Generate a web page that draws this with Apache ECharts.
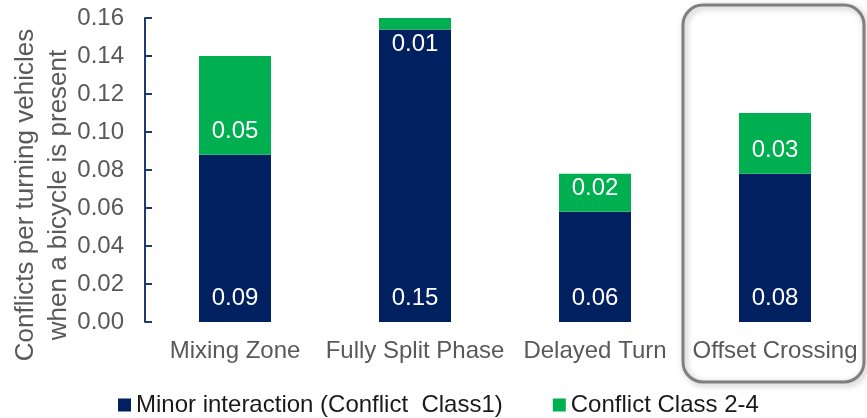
<!DOCTYPE html>
<html>
<head>
<meta charset="utf-8">
<script src="https://cdn.jsdelivr.net/npm/echarts@6/dist/echarts.min.js"></script>
<style>
  html, body { margin: 0; padding: 0; background: #ffffff; }
  #chart { width: 867px; height: 418px; }
</style>
</head>
<body>
<div id="chart"></div>
<script>
  // data
  const categories = ['Mixing Zone', 'Fully Split Phase', 'Delayed Turn', 'Offset Crossing'];
  const minorValues = [0.088, 0.154, 0.058, 0.078];
  const class24Values = [0.052, 0.007, 0.020, 0.032];
  const yTicks = [0, 0.02, 0.04, 0.06, 0.08, 0.10, 0.12, 0.14, 0.16];
  const seriesNames = ['Minor interaction (Conflict  Class1)', 'Conflict Class 2-4'];

  const navy = '#002060';
  const green = '#00b050';
  const grey = '#595959';
  const font = '"Liberation Sans", Arial, sans-serif';

  const chart = echarts.init(document.getElementById('chart'));

  // thin segments get their label pushed below the segment (like the excel one)
  const class24Data = class24Values.map(v => {
    if (v < 0.015) {
      return {value: v, label: {position: 'bottom', distance: 3}};
    }
    return v;
  });

  const option = {
    animation: false,
    textStyle: {fontFamily: font},
    grid: {left: 145, right: 2, top: 18, bottom: 96, containLabel: false},
    legend: {
      left: 118,
      top: 393,
      padding: 0,
      icon: 'rect',
      itemWidth: 13,
      itemHeight: 13,
      itemGap: 50,
      textStyle: {fontSize: 24, color: '#1a1a1a', fontFamily: font},
      data: seriesNames
    },
    xAxis: {
      type: 'category',
      data: categories,
      axisLine: {show: false},
      axisTick: {show: false},
      axisLabel: {fontSize: 24, color: grey, margin: 17, interval: 0, fontFamily: font}
    },
    yAxis: {
      type: 'value',
      min: yTicks[0],
      max: yTicks[yTicks.length - 1],
      interval: 0.02,
      splitLine: {show: false},
      axisLine: {show: true, lineStyle: {color: '#1f3a6e', width: 2}},
      axisTick: {show: true, inside: true, length: 7, lineStyle: {color: '#1f3a6e', width: 2}},
      axisLabel: {fontSize: 24, color: grey, margin: 21, fontFamily: font, formatter: v => v.toFixed(2)}
    },
    graphic: [
      {
        type: 'text',
        x: 42,
        y: 195,
        rotation: Math.PI / 2,
        style: {
          text: 'Conflicts per turning vehicles\nwhen a bicycle is present',
          fontSize: 26,
          lineHeight: 33,
          fill: grey,
          fontFamily: font,
          align: 'center',
          verticalAlign: 'middle'
        }
      },
      {
        type: 'rect',
        shape: {x: 683, y: 5, width: 181, height: 377, r: 20},
        style: {
          fill: 'none',
          stroke: '#7f7f7f',
          lineWidth: 3,
          shadowBlur: 6,
          shadowColor: 'rgba(0,0,0,0.3)',
          shadowOffsetX: 2,
          shadowOffsetY: 2
        }
      }
    ],
    series: [
      {
        name: seriesNames[0],
        type: 'bar',
        stack: 'total',
        barWidth: '40%',
        itemStyle: {color: navy},
        label: {
          show: true,
          position: 'insideBottom',
          distance: 12,
          color: '#ffffff',
          fontSize: 24,
          fontFamily: font,
          formatter: p => p.value.toFixed(2)
        },
        data: minorValues
      },
      {
        name: seriesNames[1],
        type: 'bar',
        stack: 'total',
        barWidth: '40%',
        itemStyle: {color: green},
        label: {
          show: true,
          position: 'insideBottom',
          distance: 11,
          color: '#ffffff',
          fontSize: 24,
          fontFamily: font,
          formatter: p => p.value.toFixed(2)
        },
        data: class24Data
      }
    ]
  };

  chart.setOption(option);
</script>
</body>
</html>
